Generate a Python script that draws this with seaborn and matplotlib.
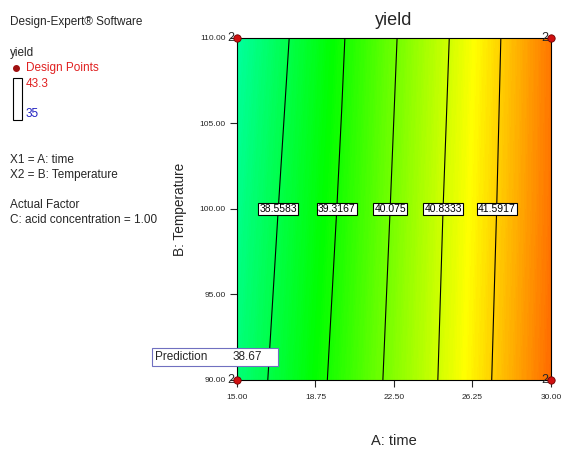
import numpy as np
import matplotlib
matplotlib.use("Agg")
import matplotlib.pyplot as plt
import matplotlib.patches as patches
from matplotlib.colors import LinearSegmentedColormap
import seaborn as sns

# values
time_vals = [15, 17.5, 20, 22.5, 25, 27.5, 30]
temp_vals = [90, 100, 110]
yield_90 = [38.17, 38.83, 39.50, 40.23, 40.95, 41.69, 42.42]
yield_100 = [38.03, 38.70, 39.38, 40.13, 40.88, 41.62, 42.35]
yield_110 = [37.86, 38.56, 39.27, 40.03, 40.79, 41.56, 42.32]
contour_levels = [38.5583, 39.3167, 40.075, 40.8333, 41.5917]
yield_min, yield_max = 35, 43.3

design_time = [15, 30, 15, 30]
design_temp = [90, 90, 110, 110]
design_reps = [2, 2, 2, 2]
prediction = 38.67

x_ticks = [15.00, 18.75, 22.50, 26.25, 30.00]
y_ticks = [90.00, 95.00, 100.00, 105.00, 110.00]

sns.set_style("ticks")
plt.rcParams['font.family'] = ['Liberation Sans', 'DejaVu Sans']

fig = plt.figure(figsize=(5.62, 4.5), dpi=100)
ax = fig.add_axes([0.4217, 0.1556, 0.5587, 0.76])

T, B = np.meshgrid(time_vals, temp_vals)
Z = np.array([yield_90, yield_100, yield_110])

de_cmap = LinearSegmentedColormap.from_list(
    "de", ["#0000ff", "#00ffff", "#00ff00", "#ffff00", "#ff0000"])
ax.contourf(T, B, Z, levels=np.linspace(Z.min() - 0.05, Z.max() + 0.05, 200),
            cmap=de_cmap, vmin=yield_min, vmax=yield_max)
cs = ax.contour(T, B, Z, levels=contour_levels, colors="black", linewidths=0.8)

label_pos = [(np.interp(lv, yield_100, time_vals), 100) for lv in contour_levels]
labels = ax.clabel(cs, inline=False, fontsize=7.5, manual=label_pos,
                   fmt=lambda v: f"{v:g}")
for t in labels:
    t.set_bbox(dict(boxstyle="square,pad=0.12", fc="white", ec="black", lw=0.8))
    t.set_rotation(0)

# design points
sns.scatterplot(x=design_time, y=design_temp, ax=ax, color="#d01010",
                edgecolor="#700000", s=28, linewidth=0.6, zorder=5, clip_on=False,
                legend=False)
for dt, dp, n in zip(design_time, design_temp, design_reps):
    ax.annotate(str(n), (dt, dp), xytext=(-2, 0), textcoords="offset points",
                ha="right", va="center", fontsize=9, annotation_clip=False)

ax.set_xlim(15, 30)
ax.set_ylim(90, 110)
ax.set_xticks(x_ticks)
ax.set_xticklabels([f"{v:.2f}" for v in x_ticks])
ax.set_yticks(y_ticks)
ax.set_yticklabels([f"{v:.2f}" for v in y_ticks])
ax.tick_params(axis="both", labelsize=6, length=5, width=0.8, direction="out", pad=3)
ax.tick_params(axis="x", pad=5)
for sp in ax.spines.values():
    sp.set_linewidth(0.8)
    sp.set_color("black")

ax.set_title("yield", fontsize=13, pad=9)
ax.set_xlabel("A: time", fontsize=10.5, labelpad=24)
ax.set_ylabel("B: Temperature", fontsize=9.8, labelpad=9)

# side legend text
fs = 8.5
fig.text(10 / 562, 1 - 22 / 450, "Design-Expert® Software", fontsize=fs, va="center")
fig.text(10 / 562, 1 - 53 / 450, "yield", fontsize=fs, va="center")
fig.lines.append(plt.Line2D([16 / 562], [1 - 68 / 450], marker="o", color="#a01010",
                            markersize=4, transform=fig.transFigure))
fig.text(26 / 562, 1 - 68 / 450, "Design Points", fontsize=fs, va="center", color="#e02020")
fig.patches.append(patches.Rectangle((13 / 562, 1 - 120 / 450), 9 / 562, 42 / 450,
                                     fill=False, ec="black", lw=0.8,
                                     transform=fig.transFigure))
fig.text(26 / 562, 1 - 84 / 450, f"{yield_max:g}", fontsize=fs, va="center", color="#e02020")
fig.text(26 / 562, 1 - 114 / 450, f"{yield_min:g}", fontsize=fs, va="center", color="#2020c0")
fig.text(10 / 562, 1 - 160 / 450, "X1 = A: time", fontsize=fs, va="center")
fig.text(10 / 562, 1 - 175 / 450, "X2 = B: Temperature", fontsize=fs, va="center")
fig.text(10 / 562, 1 - 205 / 450, "Actual Factor", fontsize=fs, va="center")
fig.text(10 / 562, 1 - 220 / 450, "C: acid concentration = 1.00", fontsize=fs, va="center")

# prediction box
fig.patches.append(patches.Rectangle((152 / 562, 1 - 366 / 450), 126 / 562, 18 / 450,
                                     fc="white", ec="#7070c0", lw=0.8, zorder=10,
                                     transform=fig.transFigure))
fig.text(155 / 562, 1 - 357 / 450, "Prediction", fontsize=fs, va="center", zorder=11)
fig.text(233 / 562, 1 - 357 / 450, f"{prediction:.2f}", fontsize=fs, va="center", zorder=11)

fig.savefig("out.png", dpi=100)
